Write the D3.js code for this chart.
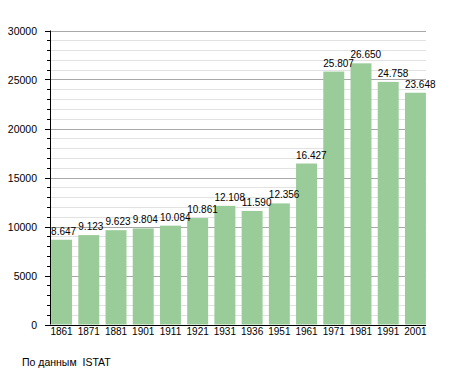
<!DOCTYPE html>
<html lang="ru">
<head>
    <meta charset="utf-8">
    <title>Население</title>
    <style>
        body {
            margin: 0;
            background: #fff;
            font-family: "Liberation Sans", Arial, sans-serif;
        }
        text {
            font-size: 10px;
            fill: #000;
        }
        .ylab, .src {
            font-size: 10.5px;
        }
        .src {
            white-space: pre;
        }
    </style>
</head>
<body>
<svg class="chart"></svg>
<script src="https://d3js.org/d3.v7.min.js"></script>
<script>

  const years = ["1861", "1871", "1881", "1901", "1911", "1921", "1931",
                 "1936", "1951", "1961", "1971", "1981", "1991", "2001"];
  const population = [8647, 9123, 9623, 9804, 10084, 10861, 12108,
                      11590, 12356, 16427, 25807, 26650, 24758, 23648];
  const labels = ["8.647", "9.123", "9.623", "9.804", "10.084", "10.861", "12.108",
                  "11.590", "12.356", "16.427", "25.807", "26.650", "24.758", "23.648"];
  const yTicks = [0, 5000, 10000, 15000, 20000, 25000, 30000];
  const source = "По данным  ISTAT";

  const width = 455;
  const height = 373;
  const plotLeft = 50, plotRight = 426, plotTop = 30.5, plotBottom = 324.5;

  const svg = d3.select(".chart")
    .attr("width", width)
    .attr("height", height);

  const x = d3.scaleBand()
    .domain(years)
    .range([plotLeft, plotRight + 1])
    .paddingInner(0.23)
    .paddingOuter(0.04);

  const y = d3.scaleLinear()
    .domain([0, 30000])
    .range([plotBottom, plotTop]);

  const minor = d3.range(0, 30001, 1000).filter(v => v % 5000 !== 0);
  const py = d => Math.round(y(d)) + 0.5;

  // minor grid
  svg.append("g")
    .selectAll("line")
    .data(minor)
    .enter().append("line")
    .attr("x1", plotLeft).attr("x2", plotRight)
    .attr("y1", py).attr("y2", py)
    .attr("stroke", "#e2e2e2");

  // major grid
  svg.append("g")
    .selectAll("line")
    .data(yTicks.slice(1))
    .enter().append("line")
    .attr("x1", plotLeft).attr("x2", plotRight)
    .attr("y1", py).attr("y2", py)
    .attr("stroke", "#a8a8a8");

  // bars
  svg.append("g")
    .selectAll("rect")
    .data(population)
    .enter().append("rect")
    .attr("x", (d, i) => x(years[i]))
    .attr("y", d => y(d))
    .attr("width", x.bandwidth())
    .attr("height", d => plotBottom - y(d))
    .attr("fill", "#99cc99");

  // value labels
  svg.append("g")
    .selectAll("text")
    .data(population)
    .enter().append("text")
    .attr("x", (d, i) => x(years[i]))
    .attr("y", d => y(d) - 5)
    .text((d, i) => labels[i]);

  // ticks on the y axis
  svg.append("g")
    .selectAll("line")
    .data(minor)
    .enter().append("line")
    .attr("x1", plotLeft - 3).attr("x2", plotLeft)
    .attr("y1", py).attr("y2", py)
    .attr("stroke", "#000");

  svg.append("g")
    .selectAll("line")
    .data(yTicks)
    .enter().append("line")
    .attr("x1", plotLeft - 5).attr("x2", plotLeft)
    .attr("y1", py).attr("y2", py)
    .attr("stroke", "#000");

  // axis lines
  svg.append("line")
    .attr("x1", plotLeft + 0.5).attr("x2", plotLeft + 0.5)
    .attr("y1", plotTop).attr("y2", plotBottom)
    .attr("stroke", "#000");

  svg.append("line")
    .attr("x1", plotLeft - 5).attr("x2", plotRight)
    .attr("y1", py(0)).attr("y2", py(0))
    .attr("stroke", "#000");

  // y labels
  svg.append("g")
    .selectAll("text")
    .data(yTicks)
    .enter().append("text")
    .attr("class", "ylab")
    .attr("x", 37)
    .attr("y", d => y(d) + 4)
    .attr("text-anchor", "end")
    .text(d => d);

  // x labels
  svg.append("g")
    .selectAll("text")
    .data(years)
    .enter().append("text")
    .attr("x", d => x(d) + x.bandwidth() / 2)
    .attr("y", 335)
    .attr("text-anchor", "middle")
    .text(d => d);

  svg.append("text")
    .attr("class", "src")
    .attr("x", 22)
    .attr("y", 366)
    .text(source);

</script>
</body>
</html>
